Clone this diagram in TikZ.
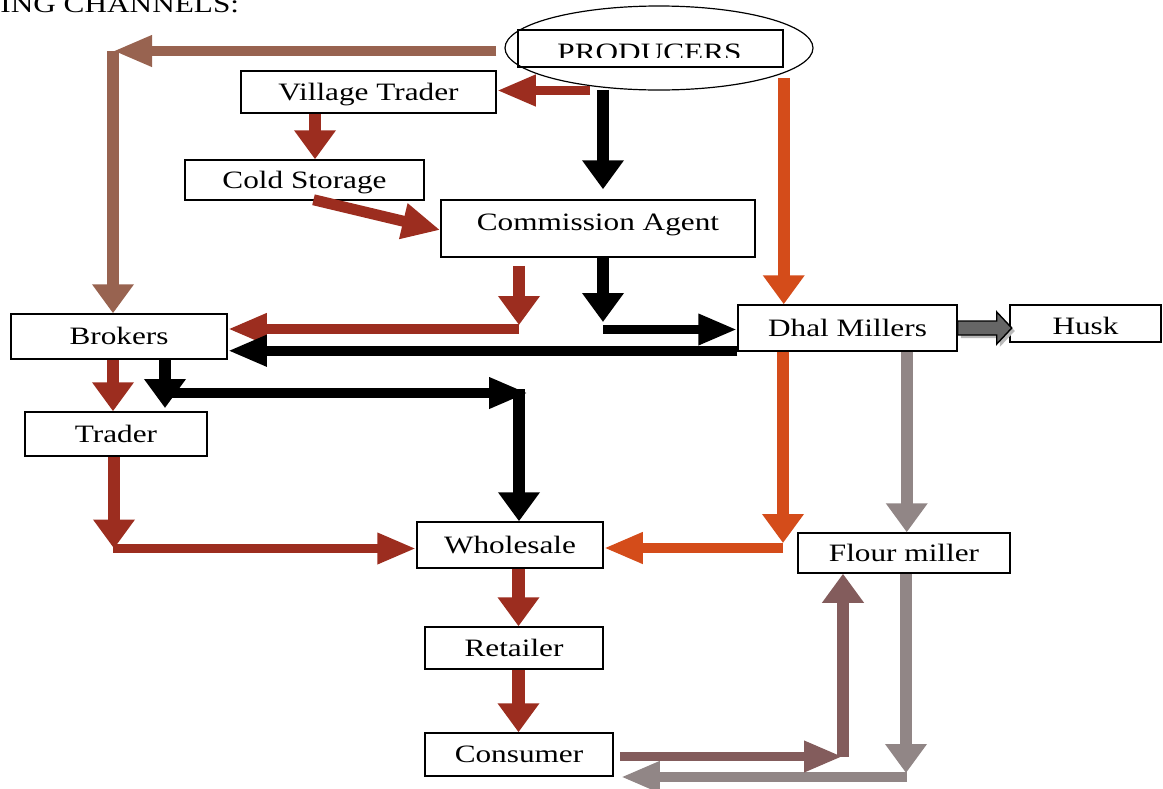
\documentclass[tikz,border=0pt]{standalone}
\usepackage{fontspec}
\setmainfont{Liberation Serif}[FakeStretch=1.25]
\usetikzlibrary{arrows.meta,calc}
\definecolor{cbrown}{RGB}{152,99,80}
\definecolor{cred}{RGB}{156,45,31}
\definecolor{corange}{RGB}{212,76,26}
\definecolor{cgray}{RGB}{145,134,134}
\definecolor{cmauve}{RGB}{131,92,92}
\definecolor{chusk}{RGB}{102,102,102}
\begin{document}
\begin{tikzpicture}[x=0.5pt,y=-0.5pt,
  lbl/.style={font=\fontsize{12.5}{15}\selectfont},
  box/.style={draw=black, line width=0.75pt, inner sep=0pt, text height=8.3pt, text depth=0pt, lbl},
  harr/.style={line width=4.75pt, -{Triangle[width=14.5pt,length=19.5pt]}},
  varr/.style={line width=6.25pt, -{Triangle[width=20pt,length=14.5pt]}},
  darr/.style={line width=5.5pt, -{Triangle[width=17pt,length=19pt]}},
]
\useasboundingbox (0,0) rectangle (1163,788);

% title (cut off at the page edge, as in the reference)
\node[lbl, anchor=base west, inner sep=0pt] (title) at (0,12) {ING CHANNELS:};

% boxes
\node[box, minimum width=132.5pt, minimum height=18.5pt] (prod) at (650.5,48.5) {};
\begin{scope}
  \clip (518,30) rectangle (783,57.5);
  \node[lbl, inner sep=0pt, anchor=base] (prodtext) at (649.5,60) {PRODUCERS};
\end{scope}
\draw[line width=0.6pt] (659,48) ellipse [x radius=77pt, y radius=21pt];

\node[box, minimum width=127.5pt, minimum height=21pt] (vt) at (368.5,92) {Village Trader};
\node[box, minimum width=119.5pt, minimum height=20pt] (cs) at (304.5,180) {Cold Storage};
\node[box, minimum width=157pt, minimum height=28.5pt, text depth=6pt] (ca) at (598,228.5) {Commission Agent};
\node[box, minimum width=108pt, minimum height=22.5pt] (br) at (119,336.5) {Brokers};
\node[box, minimum width=91pt, minimum height=22pt] (tr) at (116,434) {Trader};
\node[box, minimum width=109.5pt, minimum height=23pt] (dm) at (847.5,328) {Dhal Millers};
\node[box, minimum width=75.5pt, minimum height=18.5pt, text height=11.3pt] (husk) at (1085.5,323.5) {Husk};
\node[box, minimum width=93pt, minimum height=23pt] (ws) at (510,545) {Wholesale};
\node[box, minimum width=106pt, minimum height=20pt] (fm) at (904,553) {Flour miller};
\node[box, minimum width=89pt, minimum height=21pt] (rt) at (514,648) {Retailer};
\node[box, minimum width=94pt, minimum height=21.5pt] (cn) at (519,754.5) {Consumer};

% producers -> brokers (brown)
\coordinate (b1) at ($(prod.west)+(-21,2.5)$);
\coordinate (b2) at (113,51);
\draw[harr,cbrown] (b1) -- (b2);
\draw[varr,cbrown] (b2) -- (b2 |- br.north);

% producers -> village trader
\coordinate (r2) at (590,90.5);
\draw[harr,cred] (r2) -- (r2 -| vt.east);

% producers -> commission agent
\coordinate (k3) at (603,90);
\draw[varr,shorten >=5pt] (k3) -- (k3 |- ca.north);

% village trader -> cold storage
\draw[varr,cred] ($(vt.south)+(-53.5,0)$) -- ($(cs.north)+(10.5,0)$);

% cold storage -> commission agent
\draw[darr,cred] ($(cs.south)+(9,-1)$) -- ($(ca.west)+(0,1.5)$);

% producers -> dhal millers
\coordinate (o1) at ($(prod.south east)+(0,10)$);
\draw[varr,corange] (o1) -- (o1 |- dm.north);

% commission agent -> brokers
\coordinate (r7a) at ($(ca.south)+(-79,8)$);
\coordinate (r7) at (519,329);
\draw[varr,cred] (r7a) -- ($(r7)+(0,-4)$);
\draw[harr,cred] (r7) -- (r7 -| br.east);

% commission agent -> dhal millers
\coordinate (k8) at (603,329.5);
\draw[varr] (ca.south -| k8) -- ($(k8)+(0,-7.5)$);
\draw[harr] (k8) -- (k8 -| dm.west);

% dhal millers -> brokers
\coordinate (k9) at ($(dm.south west)+(0,-1)$);
\draw[harr] (k9) -- (k9 -| br.east);

% brokers -> wholesale (black)
\coordinate (k10) at (165,408);
\draw[varr] (br.south -| k10) -- (k10);
\coordinate (h10a) at (168,393);
\coordinate (h10b) at (528,393);
\draw[harr] (h10a) -- (h10b);
\coordinate (v10) at (519,389);
\draw[varr] (v10) -- (v10 |- ws.north);

% brokers -> trader
\coordinate (k11) at ($(br.south)+(-6,0)$);
\draw[varr,cred] (k11) -- (k11 |- tr.north);

% trader -> wholesale
\coordinate (k12) at (114,548.5);
\draw[varr,cred] (tr.south -| k12) -- (k12);
\draw[harr,cred] ($(k12)+(-1,0)$) -- (k12 -| ws.west);

% wholesale -> retailer -> consumer
\coordinate (w1) at ($(ws.south)+(8.5,0)$);
\draw[varr,cred] (w1) -- (w1 |- rt.north);
\coordinate (w2) at ($(rt.south)+(4.5,0)$);
\draw[varr,cred] (w2) -- (w2 |- cn.north);

% dhal millers -> wholesale
\coordinate (k13) at (783,548);
\draw[varr,corange] (dm.south -| k13) -- ($(k13)+(0,-5)$);
\draw[harr,corange] (k13) -- (k13 -| ws.east);

% dhal millers -> flour miller
\coordinate (k14) at ($(dm.south east)+(-51,0)$);
\draw[varr,cgray] (k14) -- (k14 |- fm.north);

% flour miller -> consumer
\coordinate (k15) at (906,777);
\draw[varr,cgray] (fm.south -| k15) -- ($(k15)+(0,-4)$);
\draw[harr,cgray,shorten >=3.5pt] ($(k15)+(1,0)$) -- (k15 -| cn.east);

% consumer -> flour miller
\coordinate (m16a) at ($(cn.east)+(6,2)$);
\coordinate (m16) at (843,756.5);
\draw[harr,cmauve] (m16a) -- (m16);
\draw[varr,cmauve] (m16) -- (m16 |- fm.south);

% dhal millers -> husk (block arrow)
\coordinate (hk) at (dm.east);
\fill[gray!55] ($(hk)+(3,-4)$) -- ++(39,0) -- ++(0,-9) -- ++(15,16) -- ++(-15,16) -- ++(0,-9) -- ++(-39,0) -- cycle;
\draw[fill=chusk, line width=0.7pt, line join=miter] ($(hk)+(0,-7)$) -- ++(39,0) -- ++(0,-9) -- ++(15,16) -- ++(-15,16) -- ++(0,-9) -- ++(-39,0) -- cycle;
\end{tikzpicture}
\end{document}
